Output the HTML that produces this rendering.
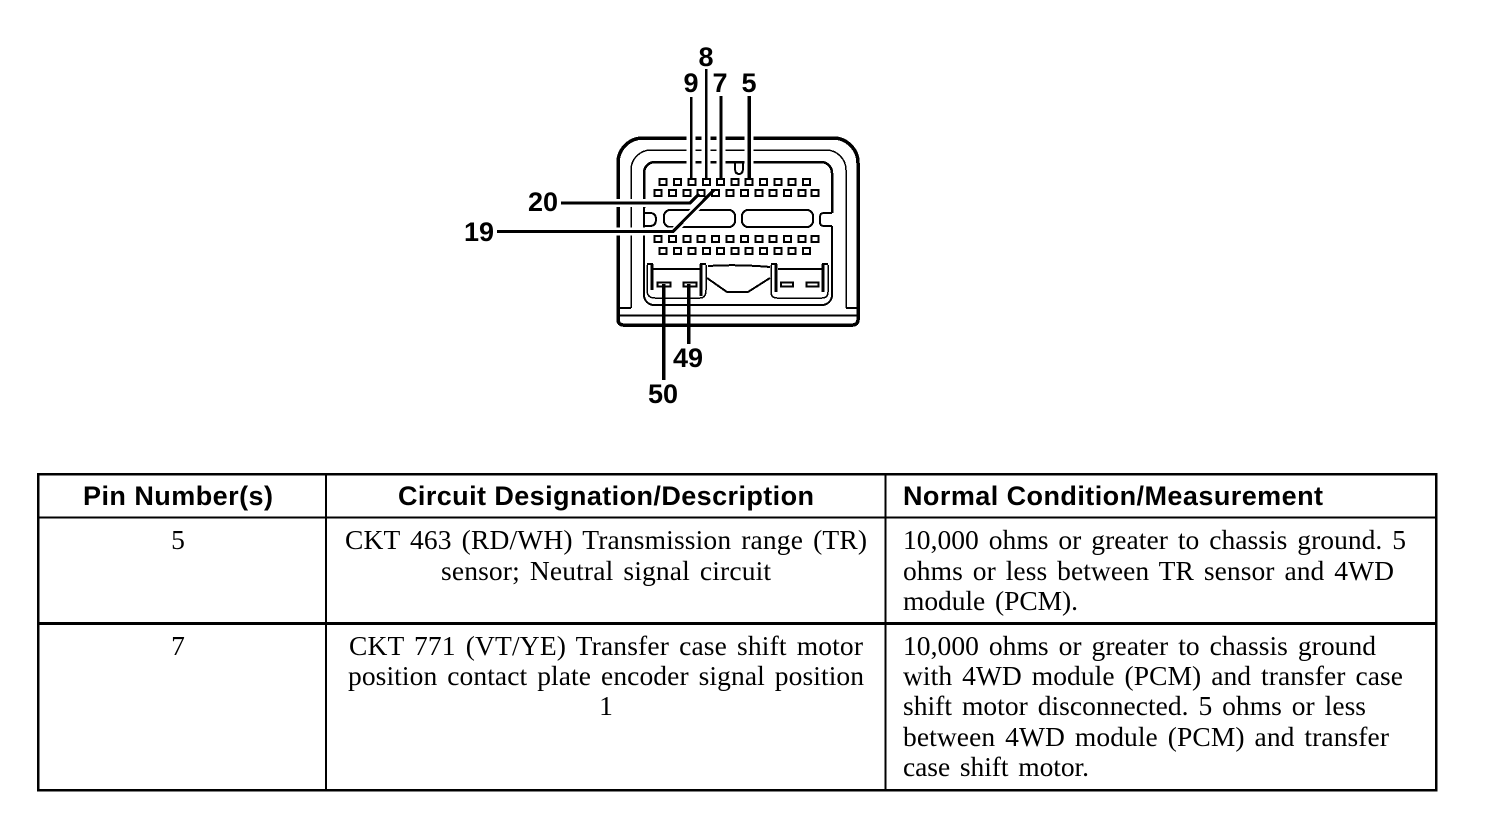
<!DOCTYPE html>
<html><head><meta charset="utf-8"><style>
html,body{margin:0;padding:0;background:#fff;width:1504px;height:828px;overflow:hidden}
svg{display:block}
.t{font-family:"Liberation Serif",serif;font-size:27.500px;word-spacing:3px;fill:#000}
.h{font-family:"Liberation Sans",sans-serif;font-size:27px;font-weight:bold;fill:#000}
.n{font-family:"Liberation Sans",sans-serif;font-size:27px;font-weight:bold;fill:#000;text-anchor:middle}
.d{shape-rendering:crispEdges}
</style></head><body>
<svg width="1504" height="828" viewBox="0 0 1504 828" xmlns="http://www.w3.org/2000/svg">
<g class="d" fill="none" stroke="#000">
<path d="M618 320V163A25 25 0 0 1 643 138H833A25 25 0 0 1 858 163V320A5 5 0 0 1 853 325H623A5 5 0 0 1 618 320Z" stroke-width="3.500"/>
<path d="M631 308V170A20 20 0 0 1 651 150H826A20 20 0 0 1 846 170V308" stroke-width="1.500"/>
<path d="M619 308H631M846 308H857" stroke-width="2"/>
<path d="M619 315.500H857" stroke-width="2"/>
<path d="M644 208V173A11 11 0 0 1 655 162H821A11 11 0 0 1 832 173V213" stroke-width="2.500"/>
<path d="M644 226V295A10 10 0 0 0 654 305H822A10 10 0 0 0 832 295V226" stroke-width="2"/>
<path d="M735 162V168Q735 174 739 174Q743 174 743 168V162" stroke-width="2"/>
<path d="M644 208V226M644 213H650Q656 213 656 219Q656 226 650 226H644" stroke-width="2"/>
<path d="M832 213H824Q820 213 820 217V222Q820 226 824 226H832" stroke-width="2"/>
<rect x="664" y="210" width="71" height="17" rx="6" stroke-width="2"/>
<rect x="742" y="210" width="71" height="17" rx="6" stroke-width="2"/>
<path d="M653 269H700M778 269H822" stroke-width="2"/>
<path d="M647 265V290Q647 298 655 298H700" stroke-width="1.500"/>
<path d="M706 265V290Q706 298 700 298" stroke-width="1.500"/>
<path d="M771 265V292Q771 298 777 298H822Q828 298 828 292V265" stroke-width="1.500"/>
<path d="M647 264H653M700 264H706M771 264H777M822 264H828" stroke-width="2"/>
<path d="M652 264V290M701 264V296M776 264V292M823 264V292" stroke-width="3"/>
<path d="M708 266Q738 264 770 267M707 278L727 292H748L770 278" stroke-width="2"/>
<rect x="657.500" y="282.500" width="13" height="4" stroke-width="2"/>
<rect x="683.500" y="282.500" width="13" height="4" stroke-width="2"/>
<rect x="781" y="282.500" width="12" height="4" stroke-width="2"/>
<rect x="806.500" y="282.500" width="12" height="4" stroke-width="2"/>
</g>
<g stroke="#fff" fill="none">
<path d="M691 134V176M706 134V176M721 134V176M749 134V176" stroke-width="9"/>
<path d="M610 203H690M610 231.500H672" stroke-width="8"/>
<path d="M674 231L712 192" stroke-width="7"/>
</g>
<g class="d" fill="none" stroke="#000" stroke-width="2">
<rect x="659.500" y="179" width="7" height="6"/><rect x="674" y="179" width="7" height="6"/><rect x="688.500" y="179" width="7" height="6"/><rect x="703" y="179" width="7" height="6"/><rect x="717" y="179" width="7" height="6"/><rect x="731.500" y="179" width="7" height="6"/><rect x="745.500" y="179" width="7" height="6"/><rect x="760" y="179" width="7" height="6"/><rect x="774.500" y="179" width="7" height="6"/><rect x="788.500" y="179" width="7" height="6"/><rect x="803" y="179" width="7" height="6"/>
<rect x="654.500" y="190" width="7" height="6"/><rect x="669" y="190" width="7" height="6"/><rect x="683.500" y="190" width="7" height="6"/><rect x="697.500" y="190" width="7" height="6"/><rect x="712" y="190" width="7" height="6"/><rect x="726.500" y="190" width="7" height="6"/><rect x="741" y="190" width="7" height="6"/><rect x="755.500" y="190" width="7" height="6"/><rect x="769.500" y="190" width="7" height="6"/><rect x="784" y="190" width="7" height="6"/><rect x="798.500" y="190" width="7" height="6"/><rect x="811.500" y="190" width="7" height="6"/>
<rect x="654.500" y="236" width="7" height="6"/><rect x="669" y="236" width="7" height="6"/><rect x="683.500" y="236" width="7" height="6"/><rect x="697.500" y="236" width="7" height="6"/><rect x="712" y="236" width="7" height="6"/><rect x="726.500" y="236" width="7" height="6"/><rect x="741" y="236" width="7" height="6"/><rect x="755.500" y="236" width="7" height="6"/><rect x="769.500" y="236" width="7" height="6"/><rect x="784" y="236" width="7" height="6"/><rect x="798.500" y="236" width="7" height="6"/><rect x="811.500" y="236" width="7" height="6"/>
<rect x="659.500" y="248" width="7" height="6"/><rect x="674" y="248" width="7" height="6"/><rect x="688.500" y="248" width="7" height="6"/><rect x="703" y="248" width="7" height="6"/><rect x="717" y="248" width="7" height="6"/><rect x="731.500" y="248" width="7" height="6"/><rect x="745.500" y="248" width="7" height="6"/><rect x="760" y="248" width="7" height="6"/><rect x="774.500" y="248" width="7" height="6"/><rect x="788.500" y="248" width="7" height="6"/><rect x="803" y="248" width="7" height="6"/>
</g>
<g class="d" stroke="#000" fill="none">
<path d="M691 97V180" stroke-width="2.500"/>
<path d="M706 69V180" stroke-width="2.500"/>
<path d="M721 96V180" stroke-width="3"/>
<path d="M749 96V180" stroke-width="3.500"/>
<path d="M561 203H690L699 194" stroke-width="3"/>
<path d="M497 231.500H673L714 190" stroke-width="3"/>
<path d="M663.500 284V380" stroke-width="3.500"/>
<path d="M688.500 284V344" stroke-width="3.500"/>
</g>
<text class="n" x="706" y="66">8</text>
<text class="n" x="691" y="92">9</text>
<text class="n" x="720" y="92">7</text>
<text class="n" x="749" y="92">5</text>
<text class="n" x="543" y="211">20</text>
<text class="n" x="479" y="241">19</text>
<text class="n" x="688" y="367">49</text>
<text class="n" x="663" y="403">50</text>
<g class="d" fill="none" stroke="#000">
<rect x="38" y="474" width="1398" height="316" stroke-width="2.500"/>
<path d="M326 474V790M885.500 474V790" stroke-width="2"/>
<path d="M38 517.500H1436" stroke-width="2"/>
<path d="M38 623.500H1436" stroke-width="3"/>
</g>
<text class="h" x="83" y="505" textLength="190" lengthAdjust="spacing">Pin Number(s)</text>
<text class="h" x="398" y="505" textLength="416" lengthAdjust="spacing">Circuit Designation/Description</text>
<text class="h" x="903" y="505" textLength="420" lengthAdjust="spacing">Normal Condition/Measurement</text>
<text class="t" x="178" y="549" text-anchor="middle">5</text>
<text class="t" x="345" y="549" textLength="522" lengthAdjust="spacing">CKT 463 (RD/WH) Transmission range (TR)</text>
<text class="t" x="441" y="580" textLength="330" lengthAdjust="spacing">sensor; Neutral signal circuit</text>
<text class="t" x="903" y="549" textLength="503" lengthAdjust="spacing">10,000 ohms or greater to chassis ground. 5</text>
<text class="t" x="903" y="580" textLength="491" lengthAdjust="spacing">ohms or less between TR sensor and 4WD</text>
<text class="t" x="903" y="610" textLength="175" lengthAdjust="spacing">module (PCM).</text>
<text class="t" x="178" y="655" text-anchor="middle">7</text>
<text class="t" x="349" y="655" textLength="514" lengthAdjust="spacing">CKT 771 (VT/YE) Transfer case shift motor</text>
<text class="t" x="348" y="685" textLength="516" lengthAdjust="spacing">position contact plate encoder signal position</text>
<text class="t" x="606" y="715" text-anchor="middle">1</text>
<text class="t" x="903" y="655" textLength="473" lengthAdjust="spacing">10,000 ohms or greater to chassis ground</text>
<text class="t" x="903" y="685" textLength="500" lengthAdjust="spacing">with 4WD module (PCM) and transfer case</text>
<text class="t" x="903" y="715" textLength="463" lengthAdjust="spacing">shift motor disconnected. 5 ohms or less</text>
<text class="t" x="903" y="746" textLength="486" lengthAdjust="spacing">between 4WD module (PCM) and transfer</text>
<text class="t" x="903" y="776" textLength="186" lengthAdjust="spacing">case shift motor.</text>
</svg>
</body></html>
